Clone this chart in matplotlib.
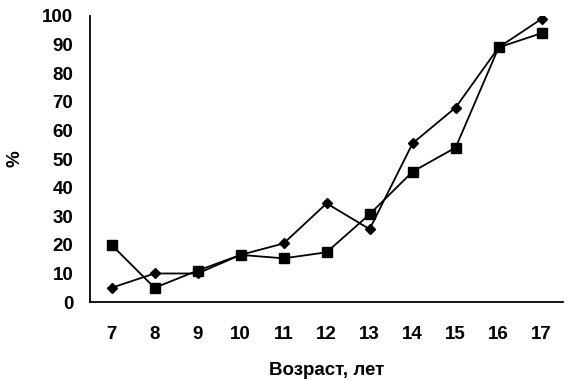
import matplotlib
matplotlib.use("Agg")
import matplotlib.pyplot as plt

# ages and the two series (%)
ages = [7, 8, 9, 10, 11, 12, 13, 14, 15, 16, 17]
diamond_vals = [5, 10, 10, 16.5, 20.5, 34.5, 25.5, 55.5, 68, 89, 99]
square_vals = [20, 5, 11, 16.5, 15.3, 17.4, 30.7, 45.6, 54, 89, 94]
yticks = [0, 10, 20, 30, 40, 50, 60, 70, 80, 90, 100]

plt.rcParams['font.family'] = ['Liberation Sans', 'DejaVu Sans']
plt.rcParams['font.weight'] = 'bold'
fs = 13.5

fig = plt.figure(figsize=(5.7, 3.8), dpi=100)
ax = fig.add_axes([0.158, 0.205, 0.83, 0.753])

ax.plot(ages, diamond_vals, color='black', lw=1.3, marker='D', ms=5,
        markerfacecolor='black', markeredgecolor='black')
ax.plot(ages, square_vals, color='black', lw=1.3, marker='s', ms=6.5,
        markerfacecolor='black', markeredgecolor='black')

ax.set_xlim(6.5, 17.5)
ax.set_ylim(0, 100)
ax.set_xticks(ages)
ax.set_yticks(yticks)
ax.tick_params(axis='both', length=0, labelsize=fs)
ax.tick_params(axis='y', pad=12)
ax.tick_params(axis='x', pad=17)
for lab in ax.get_xticklabels() + ax.get_yticklabels():
    lab.set_fontweight('bold')

for s in ['top', 'right']:
    ax.spines[s].set_visible(False)
for s in ['left', 'bottom']:
    ax.spines[s].set_linewidth(1.3)

ax.set_xlabel("Возраст, лет", fontsize=fs, fontweight='bold', labelpad=14)
fig.text(15 / 570, 1 - 159 / 380, "%", fontsize=fs, fontweight='bold',
         rotation=90, ha='center', va='center')

fig.savefig("out.png", dpi=100)
